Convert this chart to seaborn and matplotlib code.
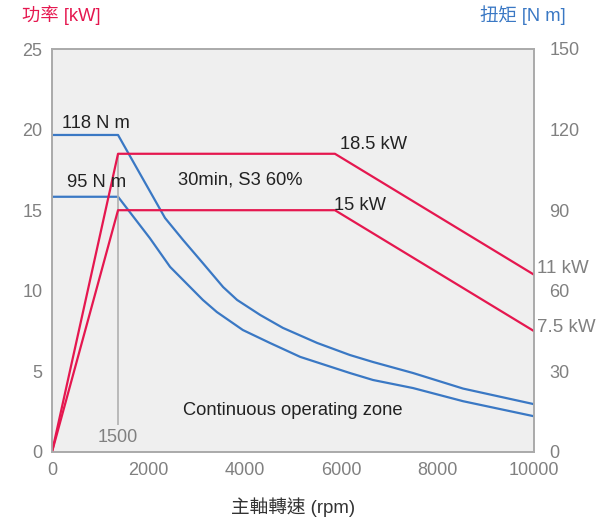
import matplotlib
matplotlib.use("Agg")
import matplotlib.pyplot as plt
import seaborn as sns
import pandas as pd

# power curves (kW) vs spindle speed (rpm)
rpm_power = [0, 1370, 5870, 10000]
power_s3 = [0, 18.5, 18.5, 11]
power_cont = [0, 15, 15, 7.5]

# torque curves (N m)
rpm_torque_s3 = [0, 1370, 2345, 2720, 3130, 3550, 3840, 4320, 4790, 5500,
                 6180, 6660, 7490, 8530, 10000]
torque_s3 = [118, 118, 87.1, 78.9, 70.3, 61.4, 56.6, 51.0, 46.2, 40.6,
             36.1, 33.5, 29.4, 23.6, 17.8]
rpm_torque_cont = [0, 1370, 2030, 2450, 3130, 3420, 3960, 4520, 5150, 6180,
                   6660, 7490, 8530, 10000]
torque_cont = [95, 95, 79.6, 68.9, 56.6, 52.1, 45.4, 40.6, 35.4, 29.4,
               26.8, 23.8, 18.9, 13.3]

power_ticks = [0, 5, 10, 15, 20, 25]
torque_ticks = [0, 30, 60, 90, 120, 150]
rpm_ticks = [0, 2000, 4000, 6000, 8000, 10000]

RED = "#e5174f"
BLUE = "#3a78c4"
GREY = "#808080"

sns.set_style("white", {"axes.facecolor": "#efefef", "axes.edgecolor": "#aaaaaa"})
plt.rcParams['font.family'] = ['Liberation Sans', 'Noto Sans CJK TC', 'DejaVu Sans']

fig = plt.figure(figsize=(6.08, 5.25), dpi=100)
ax = fig.add_axes([52 / 608, 73 / 525, 482 / 608, 403 / 525])
ax2 = ax.twinx()

df_p = pd.DataFrame({"rpm": rpm_power, "s3": power_s3, "cont": power_cont})
df_t1 = pd.DataFrame({"rpm": rpm_torque_s3, "t": torque_s3})
df_t2 = pd.DataFrame({"rpm": rpm_torque_cont, "t": torque_cont})

sns.lineplot(data=df_t1, x="rpm", y="t", ax=ax2, color=BLUE, lw=1.6, sort=False)
sns.lineplot(data=df_t2, x="rpm", y="t", ax=ax2, color=BLUE, lw=1.6, sort=False)
sns.lineplot(data=df_p, x="rpm", y="s3", ax=ax, color=RED, lw=1.6, sort=False)
sns.lineplot(data=df_p, x="rpm", y="cont", ax=ax, color=RED, lw=1.6, sort=False)
ax.set_zorder(ax2.get_zorder() + 1)
ax.patch.set_visible(False)
ax2.patch.set_visible(True)
ax2.patch.set_facecolor("#efefef")

knee = rpm_power[1]
ax.vlines(knee, 1.7, power_s3[1], color="#b0b0b0", lw=1.2, zorder=1)

ax.set_xlim(0, 10000)
ax.set_ylim(0, 25)
ax2.set_ylim(0, 150)
ax.set_xticks(rpm_ticks)
ax.set_yticks(power_ticks)
ax2.set_yticks(torque_ticks)
ax.set_xlabel("")
ax.set_ylabel("")
ax2.set_xlabel("")
ax2.set_ylabel("")
ax.tick_params(axis="both", length=0, labelsize=13, labelcolor=GREY)
ax.tick_params(axis="y", pad=7)
ax.tick_params(axis="x", pad=7)
ax2.tick_params(axis="y", length=0, labelsize=13, labelcolor=GREY, pad=11)
for a in (ax, ax2):
    for s in a.spines.values():
        s.set_color("#aaaaaa")
        s.set_linewidth(1.2)

txt = dict(fontsize=13.2, color="#222222", va="center")
ax.text(207, 20.35, "118 N m", ha="left", **txt)
ax.text(311, 16.7, "95 N m", ha="left", **txt)
ax.text(2615, 16.9, "30min, S3 60%", ha="left", **txt)
ax.text(5976, 19.05, "18.5 kW", ha="left", **txt)
ax.text(5850, 15.3, "15 kW", ha="left", **txt)
ax.text(2718, 2.6, "Continuous operating zone", ha="left", **txt)
ax.text(knee, 0.93, "1500", ha="center", va="center", fontsize=13, color=GREY)
ax.text(10064, 11.4, "11 kW", ha="left", va="center", fontsize=13.5, color=GREY, clip_on=False)
ax.text(10064, 7.75, "7.5 kW", ha="left", va="center", fontsize=13.5, color=GREY, clip_on=False)

fig.text(22 / 608, 1 - 15 / 525, "功率 [kW]", color=RED, fontsize=13.2, ha="left", va="center")
fig.text(480 / 608, 1 - 15 / 525, "扭矩 [N m]", color=BLUE, fontsize=13.2, ha="left", va="center")
fig.text(293 / 608, 1 - 507 / 525, "主軸轉速 (rpm)", color="#333333", fontsize=13.4, ha="center", va="center")

fig.savefig("out.png", dpi=100)
